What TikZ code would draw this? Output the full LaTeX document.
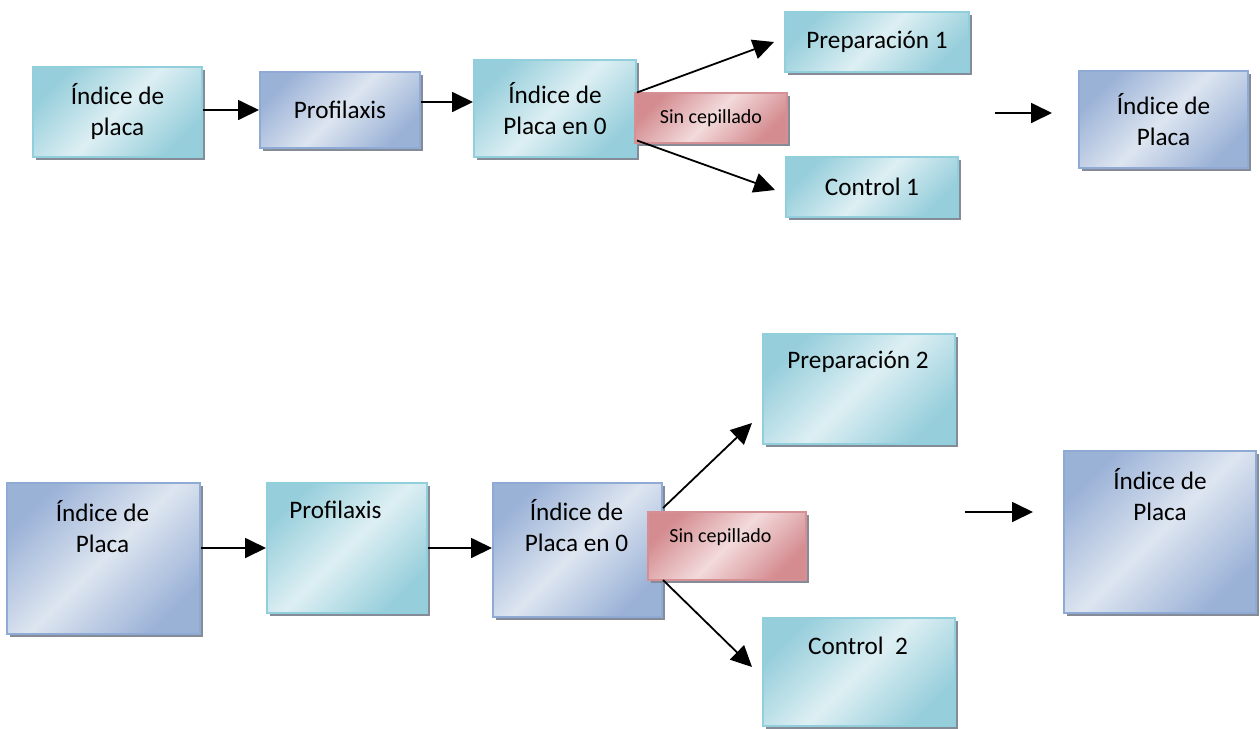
\documentclass[tikz,border=0pt]{standalone}
\usepackage{fontspec}
\setmainfont{Carlito}
\usetikzlibrary{arrows.meta,shadows}

\definecolor{cyandark}{HTML}{96CEDB}
\definecolor{cyanlight}{HTML}{DDEFF3}
\definecolor{cyanline}{HTML}{92CFDD}
\definecolor{bluedark}{HTML}{9BB2D7}
\definecolor{bluelight}{HTML}{DDE5F0}
\definecolor{blueline}{HTML}{8FAAD4}
\definecolor{reddark}{HTML}{D48C90}
\definecolor{redlight}{HTML}{F3DADB}
\definecolor{redline}{HTML}{D49094}
\definecolor{shadowgray}{HTML}{858C98}

\tikzset{
  box/.style={rectangle, inner sep=0pt, line width=1pt, align=center,
    font=\fontsize{12.6}{15.5}\selectfont,
    drop shadow={shadow xshift=1.5pt, shadow yshift=-1.5pt, fill=shadowgray, opacity=1}},
  cyanbox/.style={box, draw=cyanline, top color=cyandark, bottom color=cyandark,
    middle color=cyanlight, shading angle=45},
  bluebox/.style={box, draw=blueline, top color=bluedark, bottom color=bluedark,
    middle color=bluelight, shading angle=45},
  redbox/.style={box, draw=redline, top color=reddark, bottom color=reddark,
    middle color=redlight, shading angle=45, font=\fontsize{10}{12}\selectfont},
  txt/.style={align=center, inner sep=0pt, font=\fontsize{12.6}{15.5}\selectfont},
}

\begin{document}
\begin{tikzpicture}[x=0.5pt,y=-0.5pt]

  \useasboundingbox (0,0) rectangle (1260,729);

  % first experiment
  \begin{scope}[every node/.style={cyanbox}]
    \node[minimum width=84.5pt, minimum height=45pt]   (ip1)   at (117.5,112)  {Índice de\\placa};
    \node[minimum width=81pt,   minimum height=48.5pt] (ic1)   at (555,108.5)  {Índice de\\Placa en 0};
    \node[minimum width=92pt,   minimum height=30pt]   (prep1) at (877,42)     {Preparación 1};
    \node[minimum width=86pt,   minimum height=30pt]   (ctrl1) at (872,187)    {Control 1};
  \end{scope}

  \begin{scope}[every node/.style={bluebox}]
    \node[minimum width=80pt,   minimum height=38pt]   (prof1) at (340,110)    {Profilaxis};
    \node[minimum width=84.5pt, minimum height=48.5pt] (ipf1)  at (1163.5,119.5) {Índice de\\Placa};
  \end{scope}

  \node[redbox, minimum width=76pt, minimum height=25pt] (sc1) at (711,118) {Sin cepillado};

  % second experiment
  \begin{scope}[every node/.style={cyanbox}]
    \node[minimum width=80pt, minimum height=65pt]   (prof2) at (347,548)   {};
    \node[minimum width=96pt, minimum height=55pt]   (prep2) at (859,389)   {};
    \node[minimum width=96pt, minimum height=54pt]   (ctrl2) at (859,672)   {};
  \end{scope}

  \begin{scope}[every node/.style={bluebox}]
    \node[minimum width=96.5pt, minimum height=75.5pt] (ip2)  at (103.5,558.5) {};
    \node[minimum width=84.5pt, minimum height=67pt]   (ic2)  at (577.5,550)   {};
    \node[minimum width=96pt,   minimum height=81pt]   (ipf2) at (1160,532)    {};
  \end{scope}

  \node[redbox, minimum width=79pt, minimum height=34pt] (sc2) at (727,546) {};

  \begin{scope}[every node/.style={txt}]
    \node (ip2t)   at (102.5,527) {Índice de\\Placa};
    \node (prof2t) at (335.5,510) {Profilaxis};
    \node (ic2t)   at (576.5,526) {Índice de\\Placa en 0};
    \node (prep2t) at (858,362)   {Preparación 2};
    \node (ctrl2t) at (858,646)   {Control\ \ 2};
    \node (ipf2t)  at (1160,495)  {Índice de\\Placa};
    \node[font=\fontsize{10}{12}\selectfont] (sc2t) at (720.5,537) {Sin cepillado};
  \end{scope}

  \coordinate (g1s) at (995,113);
  \coordinate (g1e) at (1052,113);
  \coordinate (g2s) at (965,512);
  \coordinate (g2e) at (1033,512);

  \begin{scope}[every edge/.style={draw, line width=0.9pt, -{Triangle[length=10.5pt,width=10pt]}}]
    \path (ip1.east |- prof1.west) edge (prof1.west);
    \path ([yshift=4pt]prof1.east) edge ([yshift=4pt]prof1.east -| ic1.west);
    \path ([yshift=8pt]ic1.east) edge ([xshift=-5pt]prep1.west);
    \path ([yshift=-16pt]ic1.east) edge ([xshift=-5pt,yshift=-1.5pt]ctrl1.west);
    \path (g1s) edge (g1e);

    \path (ip2.east |- prof2.west) edge (prof2.west);
    \path (prof2.east) edge (prof2.east -| ic2.west);
    \path ([yshift=21pt]ic2.east) edge ([xshift=-5pt,yshift=11pt]prep2.south west);
    \path ([yshift=-15pt]ic2.east) edge ([xshift=-5pt,yshift=2.5pt]ctrl2.west);
    \path (g2s) edge (g2e);
  \end{scope}

\end{tikzpicture}
\end{document}
